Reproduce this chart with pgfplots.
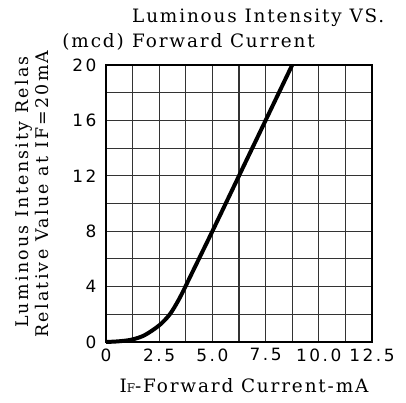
\documentclass[border=0pt]{standalone}
\usepackage{pgfplots}
\pgfplotsset{compat=1.18}
\usepackage{fontspec}
\setmainfont{DejaVu Serif}[LetterSpace=10]
\newfontfamily\ylabfont{DejaVu Serif}[LetterSpace=13]
\newfontfamily\tickfont{DejaVu Sans}[LetterSpace=15]
\begin{document}
\begin{tikzpicture}[x=1bp,y=1bp]
\useasboundingbox (-106,-61) rectangle (300,342);
\begin{axis}[
  at={(0,0)}, anchor=south west,
  scale only axis, width=266bp, height=277bp,
  xmin=0, xmax=12.5, ymin=0, ymax=20,
  xtick={0,2.5,5,7.5,10,12.5},
  xticklabels={0,2.5,5.0,7.5,10.0,12.5},
  ytick={0,4,8,12,16,20},
  minor x tick num=1, minor y tick num=1,
  grid=both,
  major grid style={draw=black!80, line width=1.2pt},
  minor grid style={draw=black!80, line width=1.2pt},
  axis line style={line width=1.3pt},
  major tick length=0pt, minor tick length=0pt,
  /pgf/number format/assume math mode=true,
  ticklabel style={font=\tickfont\fontsize{17}{19}\selectfont},
  xticklabel style={yshift=-3bp},
  yticklabel style={xshift=-6bp},
  clip=false,
]
\addplot[black, line width=4pt, smooth, tension=0.5] coordinates {
  (0,0) (0.6,0.05) (1.2,0.17) (1.8,0.48) (2.5,1.2) (3.0,2.0) (3.4,3.0) (3.7,3.9) (4.0,4.85) (5,8) (6.25,12) (7.5,16) (8.75,20)
};
\end{axis}
\begin{scope}[every node/.style={inner sep=0pt, font=\fontsize{18.5}{20}\selectfont}]
\node[anchor=base west] at (26,320) {Luminous Intensity VS.};
\node[anchor=base west] at (26,295) {Forward Current};
\node[anchor=base east] at (18,295) {(mcd)};
\node[anchor=base] at (138,-50) {I{\fontsize{12}{13}\selectfont F}-Forward Current-mA};
\node[anchor=base, rotate=90, font=\ylabfont\fontsize{17.5}{19}\selectfont] at (-77,150) {Luminous Intensity Relas};
\node[anchor=base, rotate=90, font=\ylabfont\fontsize{17.5}{19}\selectfont] at (-57,148) {Relative Value at IF=20mA};
\end{scope}
\end{tikzpicture}
\end{document}
